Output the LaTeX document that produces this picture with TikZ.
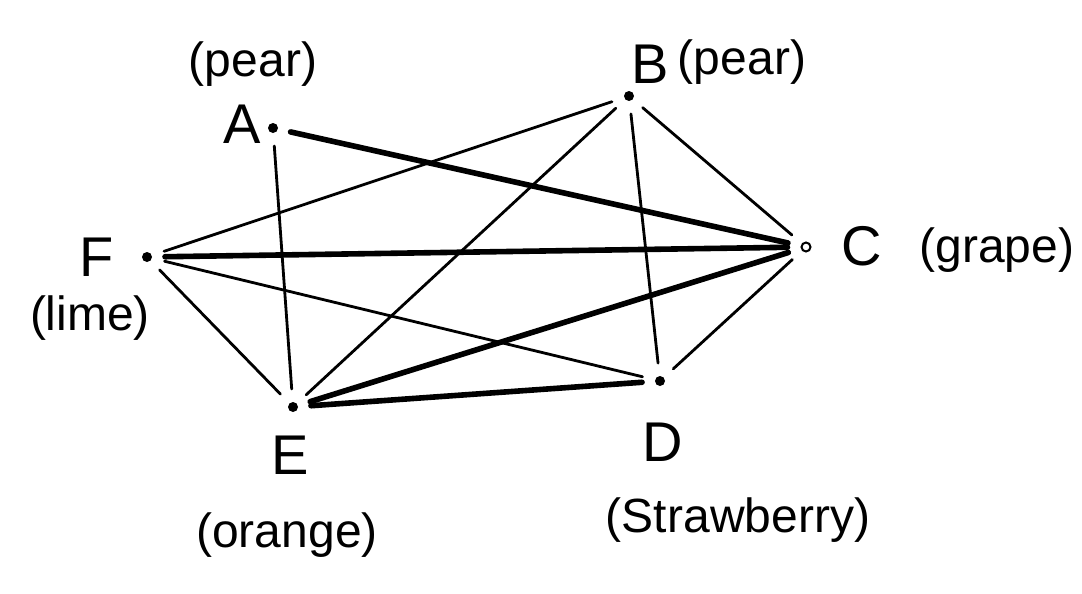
\documentclass[tikz,border=0pt]{standalone}
\usepackage{fontspec}
\setmainfont{Liberation Sans}
\begin{document}
\begin{tikzpicture}[x=0.5pt,y=-0.5pt,
  dot/.style={circle,fill=black,inner sep=0pt,minimum size=5pt,outer sep=6.5pt},
  odot/.style={circle,draw=black,line width=1pt,fill=white,inner sep=0pt,minimum size=4.5pt,outer sep=7pt},
  thinedge/.style={line width=1.4pt,line cap=round},
  thickedge/.style={line width=2.8pt,line cap=round},
  big/.style={font=\fontsize{28}{30}\selectfont,inner sep=0pt},
  lab/.style={font=\fontsize{24}{26}\selectfont,inner sep=0pt}]
\useasboundingbox (0,0) rectangle (1082,594);
% vertices
\node[dot]  (A) at (273,128) {};
\node[dot]  (B) at (629,96) {};
\node[odot] (C) at (806,247) {};
\node[dot]  (F) at (147,257) {};
\node[dot]  (E) at (293,407) {};
\node[dot]  (D) at (660,381) {};
% letters
\node[big] (lA) at (242,124) {A};
\node[big] (lB) at (650,64) {B};
\node[big] (lC) at (862,246) {C};
\node[big] (lF) at (97,257) {F};
\node[big] (lE) at (290,455) {E};
\node[big] (lD) at (663,442) {D};
% fruit labels
\node[lab] (fA) at (253,64) {(pear)};
\node[lab] (fB) at (742,62) {(pear)};
\node[lab] (fC) at (997,250) {(grape)};
\node[lab] (fF) at (90,318) {(lime)};
\node[lab] (fE) at (287,535) {(orange)};
\node[lab] (fD) at (738,520) {(Strawberry)};
% edges
\draw[thinedge] (A) -- (E);
\draw[thickedge] (A) -- (C);
\draw[thinedge] (F) -- (B);
\draw[thickedge] (F) -- (C);
\draw[thinedge] (F) -- (D);
\draw[thinedge] (F) -- (E);
\draw[thinedge] (B) -- (C);
\draw[thinedge] (B) -- (D);
\draw[thinedge] (B) -- (E);
\draw[thinedge] (C) -- (D);
\draw[thickedge] (C) -- (E);
\draw[thickedge] (E) -- (D);
\end{tikzpicture}
\end{document}
